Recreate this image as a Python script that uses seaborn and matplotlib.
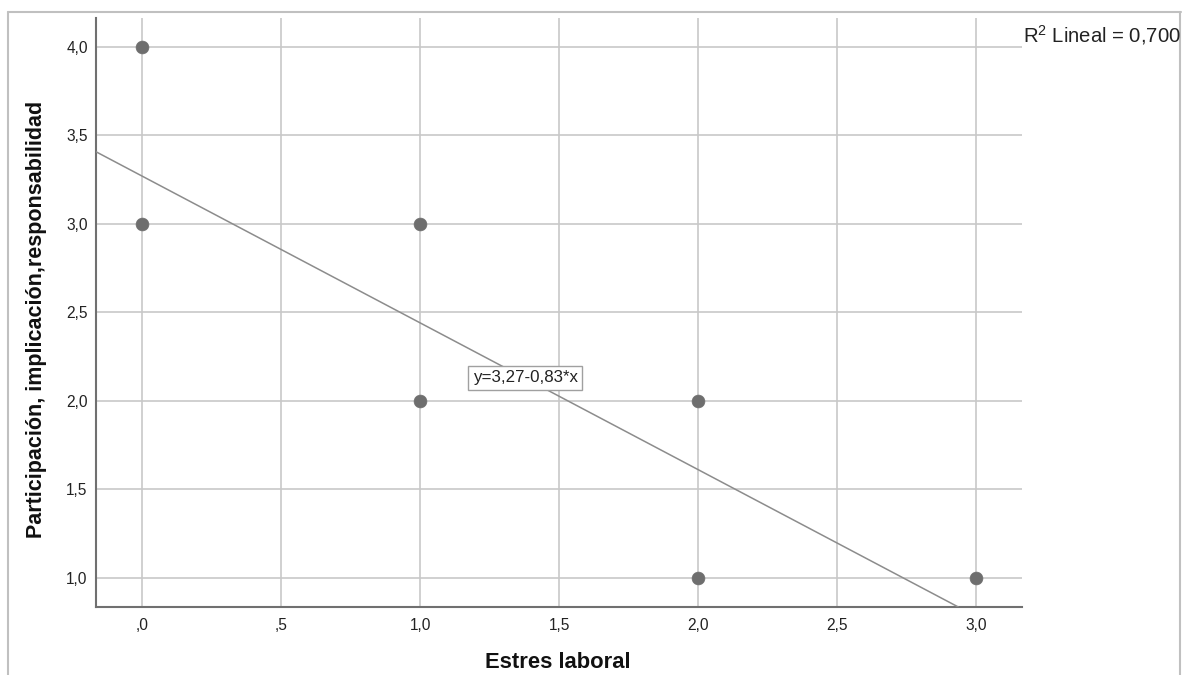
import matplotlib
matplotlib.use("Agg")
import matplotlib.pyplot as plt
import seaborn as sns
import pandas as pd
import numpy as np
from matplotlib.lines import Line2D

# ---- data ----
estres = [0, 0, 1, 1, 2, 2, 3]
participacion = [4, 3, 3, 2, 2, 1, 1]
intercept = 3.27
slope = -0.83
r2 = 0.700
x_ticks = [0.0, 0.5, 1.0, 1.5, 2.0, 2.5, 3.0]
x_ticklabels = [",0", ",5", "1,0", "1,5", "2,0", "2,5", "3,0"]
y_ticks = [1.0, 1.5, 2.0, 2.5, 3.0, 3.5, 4.0]
y_ticklabels = ["1,0", "1,5", "2,0", "2,5", "3,0", "3,5", "4,0"]
x_label = "Estres laboral"
y_label = "Participación, implicación,responsabilidad"
eq_text = "y=3,27-0,83*x"
r2_text = r"R$^2$ Lineal = 0,700"

sns.set_theme(style="white")
plt.rcParams["font.family"] = ["Liberation Sans", "DejaVu Sans"]
plt.rcParams["mathtext.fontset"] = "custom"
plt.rcParams["mathtext.rm"] = "Liberation Sans"
plt.rcParams["mathtext.it"] = "Liberation Sans"
plt.rcParams["mathtext.default"] = "regular"

W, H = 1182, 675
fig = plt.figure(figsize=(W / 100, H / 100), dpi=100)
ax = fig.add_axes([96 / W, 1 - 607 / H, (1022 - 96) / W, (607 - 18) / H])

xmin, xmax = -0.166, 3.164
ymin, ymax = 0.834, 4.164
ax.set_xlim(xmin, xmax)
ax.set_ylim(ymin, ymax)

# grid
ax.set_xticks(x_ticks)
ax.set_xticklabels(x_ticklabels)
ax.set_yticks(y_ticks)
ax.set_yticklabels(y_ticklabels)
ax.grid(True, color="#c8c8c8", linewidth=1.2)
ax.set_axisbelow(True)

# regression line from xmin to where it leaves the bottom
x_end = (ymin - intercept) / slope
fit = pd.DataFrame({"x": [xmin, x_end]})
fit["y"] = intercept + slope * fit["x"]
sns.lineplot(data=fit, x="x", y="y", ax=ax, color="#8c8c8c", linewidth=1.1, zorder=3)

df = pd.DataFrame({"Estres": estres, "Part": participacion})
sns.scatterplot(data=df, x="Estres", y="Part", ax=ax, color="#6e6e6e", s=85,
                edgecolor="#6e6e6e", linewidth=0.5, zorder=4)

for side in ["top", "right"]:
    ax.spines[side].set_visible(False)
for side in ["left", "bottom"]:
    ax.spines[side].set_color("#707070")
    ax.spines[side].set_linewidth(1.5)

ax.tick_params(axis="x", length=0, pad=8, labelsize=11.2, labelcolor="#222222")
ax.tick_params(axis="y", length=0, pad=6, labelsize=11.2, labelcolor="#222222")

ax.set_xlabel(x_label, fontsize=15.8, fontweight="bold", color="#111111", va="center")
ax.xaxis.set_label_coords(0.499, -0.095)
ax.set_ylabel(y_label, fontsize=15.5, fontweight="bold", color="#111111", va="center")
ax.yaxis.set_label_coords((37 - 96) / 926, 0.489)

ax.text(1.377, 2.129, eq_text, fontsize=12.2, ha="center", va="center", color="#222222", zorder=5,
        bbox=dict(boxstyle="square,pad=0.25", facecolor="white", edgecolor="#a0a0a0", linewidth=1))

fig.text(1023 / W, 1 - 35 / H, r2_text, fontsize=14.6, ha="left", va="center", color="#222222")

# outer frame
frame_col = "#c0c0c0"
fig.add_artist(Line2D([8 / W, 8 / W], [0, 1 - 12 / H], transform=fig.transFigure, color=frame_col, lw=1.5))
fig.add_artist(Line2D([8 / W, 1181 / W], [1 - 12 / H, 1 - 12 / H], transform=fig.transFigure, color=frame_col, lw=1.5))
fig.add_artist(Line2D([1180 / W, 1180 / W], [0, 1 - 12 / H], transform=fig.transFigure, color=frame_col, lw=1.5))

ax.set_facecolor("white")
fig.savefig("out.png", dpi=100, facecolor="white")
